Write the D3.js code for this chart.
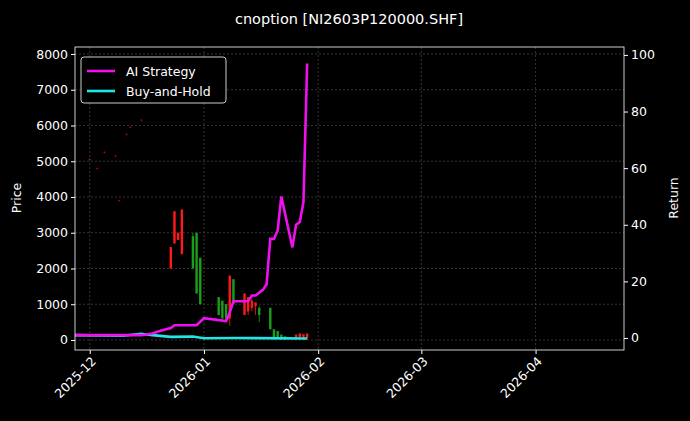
<!DOCTYPE html><html><head><meta charset="utf-8"><script src="https://cdn.jsdelivr.net/npm/d3@7"></script>
<style>body{margin:0;background:#000}text{font-family:"DejaVu Sans",sans-serif}</style></head><body><svg id="c" width="690" height="421"></svg>
<script>
const title="cnoption [NI2603P120000.SHF]";
const candleDates=["2025-12-01","2025-12-03","2025-12-05","2025-12-08","2025-12-09","2025-12-11","2025-12-12","2025-12-15","2025-12-23","2025-12-24","2025-12-25","2025-12-26","2025-12-29","2025-12-30","2025-12-31","2026-01-05","2026-01-06","2026-01-07","2026-01-08","2026-01-09","2026-01-12","2026-01-13","2026-01-14","2026-01-15","2026-01-16","2026-01-19","2026-01-20","2026-01-21","2026-01-22","2026-01-23","2026-01-26","2026-01-27","2026-01-28","2026-01-29"];
const opens =[5050,4800,5250,5150,3900,5750,5950,6150,2000,2700,2800,2400,2900,3000,2300,1200,1100,1000,600,1700,700,800,900,950,900,900,300,250,150,100,50,80,60,60];
const highs =[5080,4830,5280,5180,3930,5780,5980,6180,2600,3600,3000,3650,3000,3000,2300,1200,1100,1000,1800,1700,1300,1200,1150,1050,950,900,300,250,150,100,150,180,160,180];
const lows  =[5020,4770,5220,5120,3870,5720,5920,6120,2000,2700,2800,2400,2000,1300,1000,700,600,600,400,1000,700,700,800,700,500,300,0,50,20,0,0,10,0,0];
const closes=[5060,4810,5260,5160,3910,5760,5960,6160,2600,3600,3000,3650,2000,1300,1000,700,600,600,1800,1000,1300,1200,1100,1050,700,300,50,60,20,20,150,180,160,180];
const stratDates=["2025-11-27","2025-12-15","2025-12-18","2025-12-20","2025-12-23","2025-12-24","2025-12-27","2025-12-30","2026-01-01","2026-01-07","2026-01-08","2026-01-09","2026-01-12","2026-01-13","2026-01-14","2026-01-15","2026-01-17","2026-01-18","2026-01-19","2026-01-20","2026-01-21","2026-01-22","2026-01-25","2026-01-26","2026-01-27","2026-01-28","2026-01-29"];
const stratVals=[1,1,1.6,2.5,3.5,4.5,4.5,4.5,7,6,9,13,13,13,15,15,17,19,35,35,38,50,32,40,41,48,97];
const bhDates=["2025-11-27","2025-12-10","2025-12-15","2025-12-18","2025-12-23","2025-12-29","2026-01-01","2026-01-10","2026-01-29"];
const bhVals=[1,0.8,1.5,1,0.4,0.5,-0.1,0,-0.2];
const yTicks=[0,1000,2000,3000,4000,5000,6000,7000,8000];
const rTicks=[0,20,40,60,80,100];
const xTicks=["2025-12-01","2026-01-01","2026-02-01","2026-03-01","2026-04-01"];
const pd=d3.timeParse("%Y-%m-%d");
const svg=d3.select("#c");
const L=75,R=624,T=47,B=350;
const x=d3.scaleTime().domain([pd("2025-11-27"),pd("2026-04-25")]).range([L,R]);
const y=d3.scaleLinear().domain([-280,8196]).range([B,T]);
const yr=d3.scaleLinear().domain([-4.24,102.8]).range([B,T]);
svg.append("rect").attr("width",690).attr("height",421).attr("fill","#000");
const g=svg.append("g");
xTicks.forEach(t=>g.append("line").attr("x1",x(pd(t))).attr("x2",x(pd(t))).attr("y1",T).attr("y2",B).attr("stroke","#555").attr("stroke-dasharray","2,2").attr("stroke-width",0.6));
yTicks.forEach(t=>g.append("line").attr("x1",L).attr("x2",R).attr("y1",y(t)).attr("y2",y(t)).attr("stroke","#555").attr("stroke-dasharray","2,2").attr("stroke-width",0.6));
candleDates.forEach((d,i)=>{const cx=x(pd(d));const up=closes[i]>=opens[i];const col=up?"#ff1a1a":"#1a9e1a";
 g.append("line").attr("x1",cx).attr("x2",cx).attr("y1",y(highs[i])).attr("y2",y(lows[i])).attr("stroke",col).attr("stroke-width",0.8).attr("opacity",i<8?0.5:1);
 const t=y(Math.max(opens[i],closes[i])),b=y(Math.min(opens[i],closes[i]));
 g.append("rect").attr("x",cx-1.2).attr("width",2.4).attr("y",t).attr("height",Math.max(0.8,b-t)).attr("fill",col).attr("opacity",i<8?0.5:1);});
const ln=d3.line().x(d=>x(d[0])).y(d=>yr(d[1]));
g.append("path").attr("d",ln(bhDates.map((d,i)=>[pd(d),bhVals[i]]))).attr("fill","none").attr("stroke","#22e5e5").attr("stroke-width",2.6);
g.append("path").attr("d",ln(stratDates.map((d,i)=>[pd(d),stratVals[i]]))).attr("fill","none").attr("stroke","#ee11ee").attr("stroke-width",2.6);
g.append("rect").attr("x",L).attr("y",T).attr("width",R-L).attr("height",B-T).attr("fill","none").attr("stroke","#fff").attr("stroke-width",0.8);
const ax=svg.append("g").attr("transform",`translate(0,${B})`).call(d3.axisBottom(x).tickValues(xTicks.map(pd)).tickFormat(d3.timeFormat("%Y-%m")).tickSize(4));
ax.selectAll("text").attr("transform","rotate(-45)").attr("text-anchor","end").attr("dx","-0.3em").attr("dy","0.5em");
const ay=svg.append("g").attr("transform",`translate(${L},0)`).call(d3.axisLeft(y).tickValues(yTicks).tickFormat(d3.format("d")).tickSize(4));
const ar=svg.append("g").attr("transform",`translate(${R},0)`).call(d3.axisRight(yr).tickValues(rTicks).tickSize(4));
[ax,ay,ar].forEach(a=>{a.select(".domain").remove();a.selectAll("line").attr("stroke","#fff");a.selectAll("text").attr("fill","#fff").attr("font-size",12.5).attr("font-family","DejaVu Sans");});
svg.append("text").attr("x",349).attr("y",24).attr("text-anchor","middle").attr("fill","#fff").attr("font-size",14.5).text(title);
svg.append("text").attr("transform","translate(21,198) rotate(-90)").attr("text-anchor","middle").attr("fill","#fff").attr("font-size",12.5).text("Price");
svg.append("text").attr("transform","translate(678,198) rotate(-90)").attr("text-anchor","middle").attr("fill","#fff").attr("font-size",12.5).text("Return");
const lg=svg.append("g");
lg.append("rect").attr("x",81).attr("y",57).attr("width",145).attr("height",46).attr("rx",3).attr("fill","#000").attr("stroke","#ccc");
[["AI Strategy","#ee11ee"],["Buy-and-Hold","#22e5e5"]].forEach((s,i)=>{const yy=71+i*20;
 lg.append("line").attr("x1",87).attr("x2",115).attr("y1",yy).attr("y2",yy).attr("stroke",s[1]).attr("stroke-width",2.6);
 lg.append("text").attr("x",126).attr("y",yy+4.5).attr("fill","#fff").attr("font-size",12.5).text(s[0]);});
</script></body></html>
